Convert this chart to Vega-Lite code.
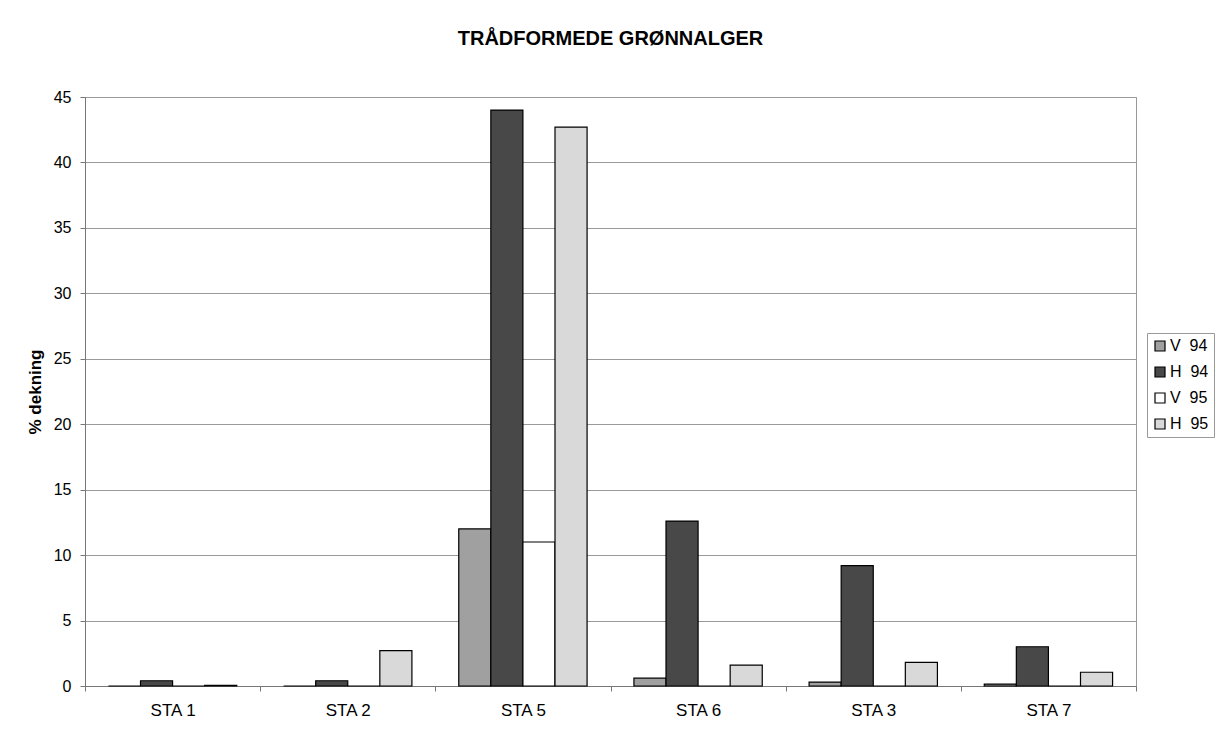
{
  "$schema": "https://vega.github.io/schema/vega-lite/v6.json",
  "autosize": "none",
  "width": 1051,
  "height": 589,
  "padding": {"left": 85, "top": 97, "right": 80, "bottom": 45},
  "background": "white",
  "title": {
    "text": "TRÅDFORMEDE GRØNNALGER",
    "font": "Liberation Sans",
    "fontSize": 20,
    "fontWeight": "bold",
    "color": "black",
    "anchor": "middle",
    "offset": 40
  },
  "data": {
    "values": [
      {"station": "STA 1", "serie": "V\u00a0 94", "value": 0},
      {"station": "STA 1", "serie": "H\u00a0 94", "value": 0.4},
      {"station": "STA 1", "serie": "V\u00a0 95", "value": 0},
      {"station": "STA 1", "serie": "H\u00a0 95", "value": 0.05},
      {"station": "STA 2", "serie": "V\u00a0 94", "value": 0},
      {"station": "STA 2", "serie": "H\u00a0 94", "value": 0.4},
      {"station": "STA 2", "serie": "V\u00a0 95", "value": 0},
      {"station": "STA 2", "serie": "H\u00a0 95", "value": 2.7},
      {"station": "STA 5", "serie": "V\u00a0 94", "value": 12},
      {"station": "STA 5", "serie": "H\u00a0 94", "value": 44},
      {"station": "STA 5", "serie": "V\u00a0 95", "value": 11},
      {"station": "STA 5", "serie": "H\u00a0 95", "value": 42.7},
      {"station": "STA 6", "serie": "V\u00a0 94", "value": 0.6},
      {"station": "STA 6", "serie": "H\u00a0 94", "value": 12.6},
      {"station": "STA 6", "serie": "V\u00a0 95", "value": 0},
      {"station": "STA 6", "serie": "H\u00a0 95", "value": 1.6},
      {"station": "STA 3", "serie": "V\u00a0 94", "value": 0.3},
      {"station": "STA 3", "serie": "H\u00a0 94", "value": 9.2},
      {"station": "STA 3", "serie": "V\u00a0 95", "value": 0},
      {"station": "STA 3", "serie": "H\u00a0 95", "value": 1.8},
      {"station": "STA 7", "serie": "V\u00a0 94", "value": 0.15},
      {"station": "STA 7", "serie": "H\u00a0 94", "value": 3.0},
      {"station": "STA 7", "serie": "V\u00a0 95", "value": 0},
      {"station": "STA 7", "serie": "H\u00a0 95", "value": 1.05}
    ]
  },
  "mark": {"type": "bar", "stroke": "black", "strokeWidth": 1.2, "cornerRadius": 0},
  "encoding": {
    "x": {
      "field": "station",
      "type": "nominal",
      "sort": ["STA 1", "STA 2", "STA 5", "STA 6", "STA 3", "STA 7"],
      "scale": {"paddingInner": 0, "paddingOuter": 0},
      "axis": {
        "title": null,
        "labelAngle": 0,
        "labelFont": "Liberation Sans",
        "labelFontSize": 17,
        "labelColor": "black",
        "labelPadding": 11,
        "tickBand": "extent",
        "tickSize": 5,
        "tickColor": "#777",
        "domainColor": "#777",
        "grid": false
      }
    },
    "xOffset": {
      "field": "serie",
      "type": "nominal",
      "sort": ["V\u00a0 94", "H\u00a0 94", "V\u00a0 95", "H\u00a0 95"],
      "scale": {"paddingInner": 0, "paddingOuter": 0.73}
    },
    "y": {
      "field": "value",
      "type": "quantitative",
      "scale": {"domain": [0, 45], "nice": false},
      "axis": {
        "title": "% dekning",
        "titleFont": "Liberation Sans",
        "titleFontSize": 17,
        "titleFontWeight": "bold",
        "titleColor": "black",
        "titlePadding": 9,
        "values": [0, 5, 10, 15, 20, 25, 30, 35, 40, 45],
        "labelFont": "Liberation Sans",
        "labelFontSize": 16,
        "labelColor": "black",
        "labelPadding": 9,
        "tickSize": 5,
        "tickColor": "#777",
        "domainColor": "#777",
        "grid": true,
        "gridColor": "#999",
        "gridWidth": 1
      }
    },
    "fill": {
      "field": "serie",
      "type": "nominal",
      "sort": ["V\u00a0 94", "H\u00a0 94", "V\u00a0 95", "H\u00a0 95"],
      "scale": {
        "domain": ["V\u00a0 94", "H\u00a0 94", "V\u00a0 95", "H\u00a0 95"],
        "range": ["#a0a0a0", "#484848", "#ffffff", "#d9d9d9"]
      },
      "legend": {
        "title": null,
        "orient": "none",
        "legendX": 1062,
        "legendY": 236,
        "padding": 5,
        "rowPadding": 10,
        "strokeColor": "#999",
        "fillColor": "white",
        "symbolType": "square",
        "symbolSize": 100,
        "symbolStrokeColor": "black",
        "symbolStrokeWidth": 1.2,
        "labelFont": "Liberation Sans",
        "labelFontSize": 16,
        "labelColor": "black",
        "labelOffset": 2
      }
    }
  },
  "config": {
    "view": {"stroke": "#999", "strokeWidth": 1}
  }
}
